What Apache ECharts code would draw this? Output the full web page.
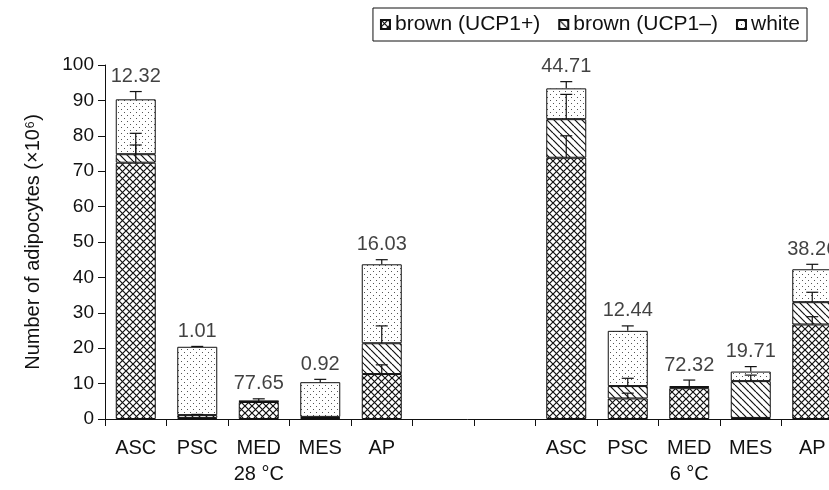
<!DOCTYPE html>
<html>
<head>
<meta charset="utf-8">
<script src="https://cdn.jsdelivr.net/npm/echarts@6/dist/echarts.min.js"></script>
<style>
  html, body { margin: 0; padding: 0; background: #fff; }
  #chart { width: 829px; height: 490px; }
</style>
</head>
<body>
<div id="chart"></div>
<script>
var categories = ['ASC', 'PSC', 'MED', 'MES', 'AP', '', '', 'ASC', 'PSC', 'MED', 'MES', 'AP']
var groupLabels = ['', '', '28 °C', '', '', '', '', '', '', '6 °C', '', '']
var yTicks = [0, 10, 20, 30, 40, 50, 60, 70, 80, 90, 100]

var brownPlus = [72.4, 0.3, 4.8, 0.3, 12.7, '-', '-', 73.8, 5.8, 8.7, 0.3, 26.7]
var brownMinus = [2.4, 0.8, 0.2, 0.3, 8.7, '-', '-', 10.9, 3.5, 0.3, 10.4, 6.3]
var white = [15.5, 19.3, 0.1, 9.8, 22.3, '-', '-', 8.7, 15.6, 0.3, 2.7, 9.3]

// error bar extents above each segment top
var errPlus = [5.0, 0, 0, 0, 2.6, '-', '-', 6.2, 1.5, 0, 0, 2.2]
var errMinus = [5.9, 0.2, 0, 0, 4.9, '-', '-', 7.0, 2.2, 0, 1.7, 2.8]
var errWhite = [2.2, 0.1, 0.6, 0.8, 1.3, '-', '-', 1.9, 1.4, 1.7, 1.4, 1.4]

var topLabels = ['12.32', '1.01', '77.65', '0.92', '16.03', '', '', '44.71', '12.44', '72.32', '19.71', '38.26']

function makePattern(kind) {
  var c = document.createElement('canvas')
  var s = kind === 'dots' ? 6 : 7
  c.width = s
  c.height = s
  var ctx = c.getContext('2d')
  ctx.fillStyle = '#fff'
  ctx.fillRect(0, 0, s, s)
  ctx.strokeStyle = '#111'
  ctx.lineWidth = 1.2
  if (kind === 'cross') {
    for (var k = -1; k <= 1; k++) {
      ctx.beginPath()
      ctx.moveTo(k * s, 0)
      ctx.lineTo(k * s + s, s)
      ctx.moveTo(k * s, s)
      ctx.lineTo(k * s + s, 0)
      ctx.stroke()
    }
  } else if (kind === 'hatch') {
    for (var j = -1; j <= 1; j++) {
      ctx.beginPath()
      ctx.moveTo(j * s, 0)
      ctx.lineTo(j * s + s, s)
      ctx.stroke()
    }
  } else {
    ctx.fillStyle = '#555'
    ctx.fillRect(1, 1, 1, 1)
    ctx.fillRect(4, 4, 1, 1)
  }
  return { image: c, repeat: 'repeat' }
}

var errData = []
var labelData = []
for (var i = 0; i < categories.length; i++) {
  if (brownPlus[i] === '-') continue
  var c1 = brownPlus[i]
  var c2 = c1 + brownMinus[i]
  var c3 = c2 + white[i]
  if (errPlus[i] > 0) errData.push([i, c1, c1 + errPlus[i]])
  if (errMinus[i] > 0) errData.push([i, c2, c2 + errMinus[i]])
  if (errWhite[i] > 0) errData.push([i, c3, c3 + errWhite[i]])
  labelData.push([i, c3 + errWhite[i], topLabels[i]])
}

var font = 'Liberation Sans, Arial, sans-serif'
var barStyle = function (kind) {
  return { color: makePattern(kind), borderColor: '#111', borderWidth: 1 }
}

var chart = echarts.init(document.getElementById('chart'))
chart.setOption({
  backgroundColor: '#fff',
  animation: false,
  textStyle: { fontFamily: font },
  grid: { left: 105, right: -14, top: 65, bottom: 71, outerBoundsMode: 'none' },
  legend: {
    data: ['brown (UCP1+)', 'brown (UCP1–)', 'white'],
    icon: 'rect',
    right: 22,
    top: 8,
    borderColor: '#111',
    borderWidth: 1,
    borderRadius: 0,
    padding: [6, 7, 6, 7],
    itemGap: 18,
    itemWidth: 9,
    itemHeight: 9,
    textStyle: { fontFamily: font, fontSize: 21, color: '#111', padding: [0, 0, 0, 0] }
  },
  xAxis: [
    {
      type: 'category',
      data: categories,
      axisLine: { lineStyle: { color: '#111', width: 1 } },
      axisTick: { show: true, length: 7, lineStyle: { color: '#111' } },
      axisLabel: { color: '#111', fontSize: 20, margin: 19, interval: 0 }
    },
    {
      type: 'category',
      data: groupLabels,
      position: 'bottom',
      offset: 26,
      axisLine: { show: false },
      axisTick: { show: false },
      axisLabel: { color: '#111', fontSize: 20, margin: 19, interval: 0 }
    }
  ],
  yAxis: {
    type: 'value',
    min: yTicks[0],
    max: yTicks[yTicks.length - 1],
    interval: 10,
    splitLine: { show: false },
    axisLine: { show: true, lineStyle: { color: '#111' } },
    axisTick: { show: true, length: 7, lineStyle: { color: '#111' } },
    axisLabel: { color: '#111', fontSize: 19, margin: 11 },
    name: 'Number of adipocytes (×10⁶)',
    nameLocation: 'middle',
    nameRotate: 90,
    nameGap: 62,
    nameTextStyle: { color: '#111', fontSize: 20 }
  },
  series: [
    {
      name: 'brown (UCP1+)',
      type: 'bar',
      stack: 'a',
      barWidth: 40,
      itemStyle: barStyle('cross'),
      data: brownPlus
    },
    {
      name: 'brown (UCP1–)',
      type: 'bar',
      stack: 'a',
      barWidth: 40,
      itemStyle: barStyle('hatch'),
      data: brownMinus
    },
    {
      name: 'white',
      type: 'bar',
      stack: 'a',
      barWidth: 40,
      itemStyle: barStyle('dots'),
      data: white
    },
    {
      type: 'custom',
      z: 10,
      encode: { x: 0, y: [1, 2] },
      data: errData,
      renderItem: function (params, api) {
        var x = api.value(0)
        var p0 = api.coord([x, api.value(1)])
        var p1 = api.coord([x, api.value(2)])
        var st = { stroke: '#111', lineWidth: 1.2 }
        return {
          type: 'group',
          children: [
            { type: 'line', shape: { x1: p0[0], y1: p0[1], x2: p1[0], y2: p1[1] }, style: st },
            { type: 'line', shape: { x1: p1[0] - 6, y1: p1[1], x2: p1[0] + 6, y2: p1[1] }, style: st }
          ]
        }
      }
    },
    {
      type: 'scatter',
      symbolSize: 0,
      silent: true,
      data: labelData,
      label: {
        show: true,
        position: 'top',
        distance: 5,
        color: '#111',
        fontSize: 20,
        formatter: function (p) { return p.value[2] }
      }
    }
  ]
})
</script>
</body>
</html>
